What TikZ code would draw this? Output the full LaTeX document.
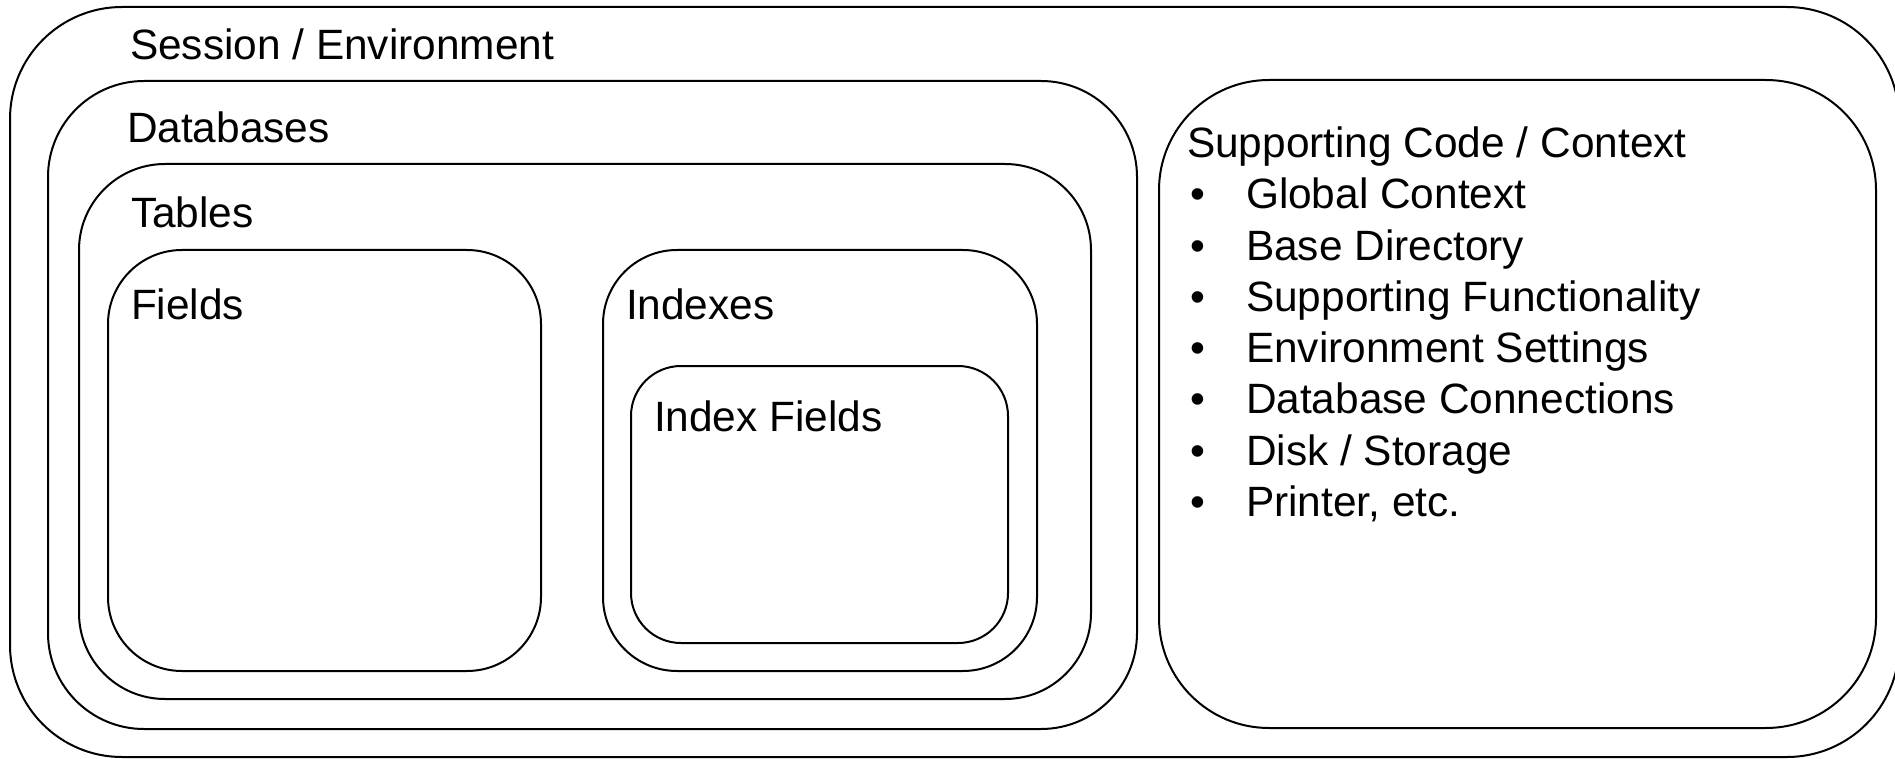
\documentclass[tikz,border=0pt]{standalone}
\usepackage{fontspec}
\setmainfont{Liberation Sans}
\tikzset{
  box/.style={draw=black, line width=1pt},
  lbl/.style={anchor=base west, inner sep=0pt, outer sep=0pt, font=\fontsize{21.2pt}{25pt}\selectfont},
}
\begin{document}
\begin{tikzpicture}[x=0.5pt, y=-0.5pt]
\useasboundingbox (0,0) rectangle (1895,759);
\begin{scope}
\clip (0,0) rectangle (1895,759);
% containers, outermost first
\draw[box, rounded corners=56pt] (10,7) rectangle (1899,757);
\draw[box, rounded corners=48pt] (48,81) rectangle (1137,729);
\draw[box, rounded corners=43pt] (79,164) rectangle (1091,699);
\draw[box, rounded corners=37pt] (108,250) rectangle (541,671);
\draw[box, rounded corners=37pt] (603,250) rectangle (1037,671);
\draw[box, rounded corners=25pt] (631,366) rectangle (1008,643);
\draw[box, rounded corners=55pt] (1159,80) rectangle (1876,728);
\end{scope}
% container titles
\node[lbl] (session) at (130,60) {Session / Environment};
\node[lbl] (databases) at (127,143) {Databases};
\node[lbl] (tables) at (131,228) {Tables};
\node[lbl] (fields) at (131,320) {Fields};
\node[lbl] (indexes) at (626,320) {Indexes};
\node[lbl] (indexfields) at (654,431) {Index Fields};
\node[lbl] (support) at (1187,158) {Supporting Code / Context};
% bullet list
\foreach \t [count=\i from 0] in {Global Context, Base Directory, Supporting Functionality, Environment Settings, Database Connections, Disk / Storage, {Printer, etc.}} {
  \node[lbl] (b\i) at (1190,209+51.2*\i) {\textbullet};
  \node[lbl] (item\i) at (1246,209+51.2*\i) {\t};
}
\end{tikzpicture}
\end{document}
